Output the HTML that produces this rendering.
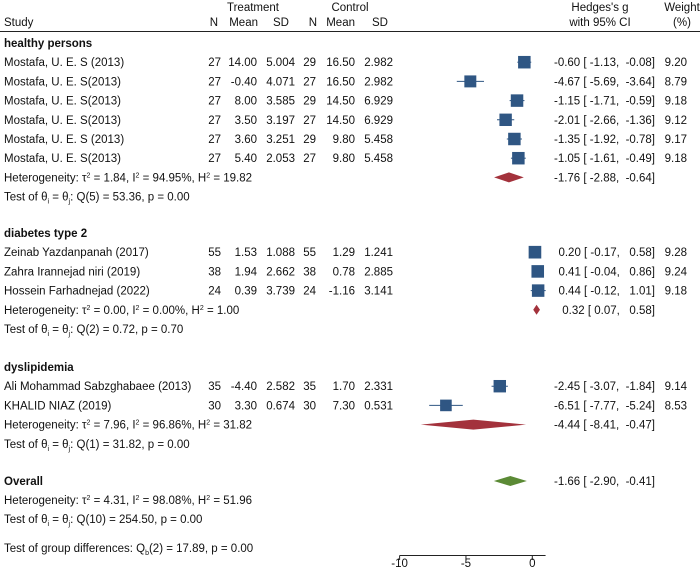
<!DOCTYPE html>
<html><head><meta charset="utf-8"><style>
body{margin:0;background:#fff}
svg text{font-family:"Liberation Sans",Arial,sans-serif;font-size:11.5px;fill:#111;white-space:pre}
.b{font-weight:bold}
</style></head><body>
<svg id="fp" width="700" height="571" xmlns="http://www.w3.org/2000/svg" xml:space="preserve">
<g id="hdr">
<text x="253" y="11" text-anchor="middle">Treatment</text>
<text x="350" y="11" text-anchor="middle">Control</text>
<text x="600" y="11" text-anchor="middle">Hedges's g</text>
<text x="682" y="11" text-anchor="middle">Weight</text>
<text x="4" y="26">Study</text>
<text x="218" y="26" text-anchor="end">N</text>
<text x="258" y="26" text-anchor="end">Mean</text>
<text x="289" y="26" text-anchor="end">SD</text>
<text x="317" y="26" text-anchor="end">N</text>
<text x="355" y="26" text-anchor="end">Mean</text>
<text x="388" y="26" text-anchor="end">SD</text>
<text x="600" y="26" text-anchor="middle">with 95% CI</text>
<text x="682" y="26" text-anchor="middle">(%)</text>
<line x1="0" y1="31.5" x2="700" y2="31.5" stroke="#222" stroke-width="1"/>
</g>
<g id="rows"></g>
<g id="axis"></g>
</svg>
<script>
const names=["Mostafa, U. E. S (2013)","Mostafa, U. E. S(2013)","Mostafa, U. E. S(2013)","Mostafa, U. E. S(2013)","Mostafa, U. E. S (2013)","Mostafa, U. E. S(2013)","Zeinab Yazdanpanah (2017)","Zahra Irannejad niri (2019)","Hossein Farhadnejad (2022)","Ali Mohammad Sabzghabaee (2013)","KHALID NIAZ (2019)"];
const group=[0,0,0,0,0,0,1,1,1,2,2];
const tN=[27,27,27,27,27,27,55,38,24,35,30];
const tMean=["14.00","-0.40","8.00","3.50","3.60","5.40","1.53","1.94","0.39","-4.40","3.30"];
const tSD=["5.004","4.071","3.585","3.197","3.251","2.053","1.088","2.662","3.739","2.582","0.674"];
const cN=[29,27,29,27,29,27,55,38,24,35,30];
const cMean=["16.50","16.50","14.50","14.50","9.80","9.80","1.29","0.78","-1.16","1.70","7.30"];
const cSD=["2.982","2.982","6.929","6.929","5.458","5.458","1.241","2.885","3.141","2.331","0.531"];
const est=[-0.60,-4.67,-1.15,-2.01,-1.35,-1.05,0.20,0.41,0.44,-2.45,-6.51];
const lo=[-1.13,-5.69,-1.71,-2.66,-1.92,-1.61,-0.17,-0.04,-0.12,-3.07,-7.77];
const hi=[-0.08,-3.64,-0.59,-1.36,-0.78,-0.49,0.58,0.86,1.01,-1.84,-5.24];
const weight=[9.20,8.79,9.18,9.12,9.17,9.18,9.28,9.24,9.18,9.14,8.53];
const groupNames=["healthy persons","diabetes type 2","dyslipidemia"];
const groupEst=[-1.76,0.32,-4.44];
const groupLo=[-2.88,0.07,-8.41];
const groupHi=[-0.64,0.58,-0.47];
const groupHet=["Heterogeneity: τ<tspan dy='-4' font-size='7'>2</tspan><tspan dy='4'> = 1.84, I</tspan><tspan dy='-4' font-size='7'>2</tspan><tspan dy='4'> = 94.95%, H</tspan><tspan dy='-4' font-size='7'>2</tspan><tspan dy='4'> = 19.82</tspan>",
"Heterogeneity: τ<tspan dy='-4' font-size='7'>2</tspan><tspan dy='4'> = 0.00, I</tspan><tspan dy='-4' font-size='7'>2</tspan><tspan dy='4'> = 0.00%, H</tspan><tspan dy='-4' font-size='7'>2</tspan><tspan dy='4'> = 1.00</tspan>",
"Heterogeneity: τ<tspan dy='-4' font-size='7'>2</tspan><tspan dy='4'> = 7.96, I</tspan><tspan dy='-4' font-size='7'>2</tspan><tspan dy='4'> = 96.86%, H</tspan><tspan dy='-4' font-size='7'>2</tspan><tspan dy='4'> = 31.82</tspan>"];
const groupQ=["Q(5) = 53.36, p = 0.00","Q(2) = 0.72, p = 0.70","Q(1) = 31.82, p = 0.00"];
const overallEst=-1.66, overallLo=-2.90, overallHi=-0.41;
const ticks=[-10,-5,0];

const X=v=>532.3+v*13.27;
const NS="http://www.w3.org/2000/svg";
const G=document.getElementById('rows');
function el(tag,attrs,parent){const e=document.createElementNS(NS,tag);for(const k in attrs)e.setAttribute(k,attrs[k]);(parent||G).appendChild(e);return e;}
function txt(x,y,s,anchor,cls,parent){const e=el('text',{x:x,y:y+4,'text-anchor':anchor||'start'},parent);if(cls)e.setAttribute('class',cls);e.innerHTML=s;return e;}
const f2=v=>(v<0?"-":"")+Math.abs(v).toFixed(2);
function ci(e,l,h){return f2(e)+" [ "+f2(l)+",  "+(h<0?"":" ")+f2(h)+"]";}
function diamond(e,l,h,y,col){return el('polygon',{points:`${X(l)},${y} ${X(e)},${y-5} ${X(h)},${y} ${X(e)},${y+5}`,fill:col});}

const groupY=[43,233,367];
for(let g=0;g<3;g++){
  let y=groupY[g];
  const h=txt(4,y,groupNames[g],'start','b');
  
  
  y+=19.2;
  for(let i=0;i<names.length;i++){ if(group[i]!==g) continue;
    const r=el('g',{});
    
    
    txt(4,y,names[i],'start','',r);
    txt(221,y,tN[i],'end','',r);txt(257,y,tMean[i],'end','',r);txt(295,y,tSD[i],'end','',r);
    txt(316,y,cN[i],'end','',r);txt(355,y,cMean[i],'end','',r);txt(393,y,cSD[i],'end','',r);
    el('line',{x1:X(lo[i]),x2:X(hi[i]),y1:y,y2:y,stroke:'#2f5683','stroke-width':1},r);
    const s=weight[i]*1.36;
    const sq=el('rect',{x:X(est[i])-s/2,y:y-s/2,width:s,height:s,fill:'#2f5683'},r);
    
    
    txt(655,y,ci(est[i],lo[i],hi[i]),'end','',r);
    txt(687,y,weight[i].toFixed(2),'end','',r);
    y+=19.2;
  }
  const d=diamond(groupEst[g],groupLo[g],groupHi[g],y,'#a3323c');
  
  
  txt(655,y,ci(groupEst[g],groupLo[g],groupHi[g]),'end');
  txt(4,y,groupHet[g]);
  y+=19.2;
  txt(4,y,"Test of θ<tspan dy='3' font-size='7'>i</tspan><tspan dy='-3'> = θ</tspan><tspan dy='3' font-size='7'>j</tspan><tspan dy='-3'>: "+groupQ[g]+"</tspan>");
}
const od=diamond(overallEst,overallLo,overallHi,481,'#5b8a35');


txt(4,481,"Overall",'start','b');
txt(655,481,ci(overallEst,overallLo,overallHi),'end');
txt(4,500,"Heterogeneity: τ<tspan dy='-4' font-size='7'>2</tspan><tspan dy='4'> = 4.31, I</tspan><tspan dy='-4' font-size='7'>2</tspan><tspan dy='4'> = 98.08%, H</tspan><tspan dy='-4' font-size='7'>2</tspan><tspan dy='4'> = 51.96</tspan>");
txt(4,519,"Test of θ<tspan dy='3' font-size='7'>i</tspan><tspan dy='-3'> = θ</tspan><tspan dy='3' font-size='7'>j</tspan><tspan dy='-3'>: Q(10) = 254.50, p = 0.00</tspan>");
txt(4,548,"Test of group differences: Q<tspan dy='3' font-size='7'>b</tspan><tspan dy='-3'>(2) = 17.89, p = 0.00</tspan>");

const A=document.getElementById('axis');
el('line',{x1:X(-10),x2:X(1),y1:555.5,y2:555.5,stroke:'#222','stroke-width':1},A);
ticks.forEach(t=>{
  el('line',{x1:X(t),x2:X(t),y1:555.5,y2:560,stroke:'#222','stroke-width':1},A);
  const tl=txt(X(t),563,String(t),'middle','',A);
  
  
});
</script>
</body></html>
